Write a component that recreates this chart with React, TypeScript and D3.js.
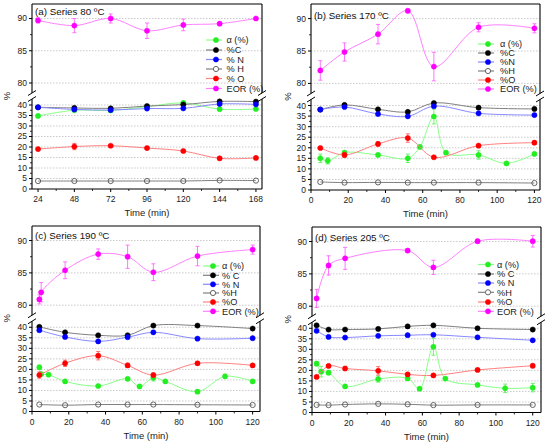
import React from "react";
import * as d3 from "d3";

// ---------- Panel (a) Series 80 ºC ----------
const aTime = [24, 48, 72, 96, 120, 144, 168];
const aAlpha = [34.8, 37.5, 37.4, 39.2, 41.0, 38.0, 38.1];
const aC = [38.9, 38.6, 38.4, 39.5, 40.2, 41.7, 41.6];
const aN = [38.9, 37.9, 37.6, 38.3, 38.4, 40.5, 40.3];
const aH = [3.8, 3.8, 3.8, 3.8, 3.8, 4.1, 4.0];
const aO = [19.0, 20.2, 20.6, 19.5, 18.1, 14.6, 14.8];
const aOErr = [0, 1.5, 0.5, 0, 0, 0.8, 0];
const aEOR = [89.7, 88.9, 90.0, 88.1, 89.0, 89.2, 90.0];
const aEORErr = [0.4, 1.1, 0.7, 1.2, 0.9, 0.2, 0.2];

// ---------- Panel (b) Series 170 ºC ----------
const bAlphaTime = [5, 9, 18, 36, 52, 58.5, 66, 72.5, 90, 105, 120];
const bAlpha = [15.0, 13.8, 17.7, 16.6, 15.0, 20.4, 34.8, 17.7, 16.6, 12.6, 17.1];
const bAlphaErr = [2, 1.5, 0.8, 0, 2, 0, 3.5, 0.5, 2, 0, 0];
const bTime = [5, 18, 36, 52, 66, 90, 120];
const bC = [38.1, 40.3, 38.2, 37.0, 41.2, 39.0, 38.4];
const bN = [38.1, 39.3, 36.0, 34.9, 39.7, 36.3, 35.5];
const bH = [3.8, 3.5, 3.6, 3.5, 3.5, 3.5, 3.3];
const bO = [19.9, 16.6, 21.8, 24.6, 15.5, 21.0, 22.4];
const bOErr = [0, 1.2, 1, 2, 0, 0, 0.8];
const bEOR = [82.0, 84.85, 87.6, 91.2, 82.6, 88.66, 88.5];
const bEORErr = [1.5, 1.4, 1.5, 0.3, 2.2, 0.7, 0.7];

// ---------- Panel (c) Series 190 ºC ----------
const cAlphaTime = [4, 5, 9, 18, 36, 52, 58.5, 66, 72.5, 90, 105, 120];
const cAlpha = [21.0, 17.8, 17.5, 14.3, 12.1, 15.5, 11.9, 16.0, 14.3, 9.4, 16.7, 14.3];
const cAlphaErr = [1, 0, 0, 0, 0, 0.5, 0, 1.5, 0, 0.8, 1, 0.5];
const cTime = [4, 18, 36, 52, 66, 90, 120];
const cC = [40.2, 37.6, 36.2, 36.2, 40.8, 40.8, 39.4];
const cN = [38.6, 35.4, 33.3, 35.3, 37.6, 34.6, 34.8];
const cH = [3.3, 3.0, 3.3, 3.3, 3.3, 3.2, 3.1];
const cO = [17.3, 22.9, 26.5, 21.9, 17.3, 22.9, 21.9];
const cOErr = [1.5, 1.5, 2, 1, 1, 0.8, 0];
const cEORTime = [4, 5, 18, 36, 52, 66, 90, 120];
const cEOR = [80.9, 82.0, 85.4, 87.9, 87.5, 85.1, 87.6, 88.6];
const cEORErr = [0.7, 1.5, 1.3, 0.8, 1.8, 1.3, 1.5, 0.7];

// ---------- Panel (d) Series 205 ºC ----------
const dAlphaTime = [2.5, 5, 9, 18, 36, 52, 58.5, 66, 72.5, 90, 105, 120];
const dAlpha = [23.2, 19.4, 18.9, 12.4, 15.9, 16.2, 11.3, 31.2, 16.1, 13.1, 11.5, 11.8];
const dAlphaErr = [1, 2.5, 1, 0.5, 1.5, 1, 0.5, 4, 0.5, 0.5, 2, 2];
const dTime = [2.5, 9, 18, 36, 52, 66, 90, 120];
const dC = [41.4, 39.4, 39.4, 39.7, 40.9, 41.4, 40.0, 39.4];
const dN = [38.8, 35.9, 35.6, 36.4, 36.7, 36.9, 35.7, 34.3];
const dH = [3.6, 3.5, 3.8, 4.1, 3.9, 3.5, 3.6, 3.6];
const dO = [16.9, 22.1, 20.9, 19.8, 18.1, 17.6, 20.2, 22.2];
const dOErr = [0, 0.5, 1, 2, 0, 0, 0, 1];
const dEORTime = [2.5, 9, 18, 52, 66, 90, 120];
const dEOR = [81.2, 86.3, 87.4, 88.6, 86.0, 90.05, 90.05];
const dEORErr = [1.4, 1.5, 1.7, 0.3, 1.1, 0.3, 0.9];

// ---------- Labels / ticks ----------
const titles = ["(a) Series 80 ºC", "(b) Series 170 ºC", "(c) Series 190 ºC", "(d) Series 205 ºC"];
const legendA = ["α (%)", "%C", "% N", "% H", "% O", "EOR (%)"];
const legendB = ["α (%)", "%C", "%N", "%H", "%O", "EOR (%)"];
const legendC = ["α (%)", "% C", "% N", "%H", "%O", "EOR (%)"];
const legendD = ["α (%)", "% C", "% N", "%H", "%O", "EOR (%)"];
const xTicksA = [24, 48, 72, 96, 120, 144, 168];
const xTicksMin = [0, 20, 40, 60, 80, 100, 120];
const yTicksBottom = [0, 5, 10, 15, 20, 25, 30, 35, 40];
const yTicksTop = [80, 85, 90];

// ---------- Styles ----------
const FONT = "'Liberation Sans', Arial, Helvetica, sans-serif";
const STY = [
  { fill: "#22ee22", stroke: "#22ee22", line: "#88ff88", err: "#66ee66" }, // alpha
  { fill: "#000000", stroke: "#000000", line: "#808080", err: "#555555" }, // C
  { fill: "#0000ff", stroke: "#0000ff", line: "#8888ff", err: "#6666ff" }, // N
  { fill: "none", stroke: "#555555", line: "#808080", err: "#808080" }, // H
  { fill: "#ff0000", stroke: "#ff0000", line: "#ff8080", err: "#ff6666" }, // O
  { fill: "#ff00ff", stroke: "#ff00ff", line: "#ff80ff", err: "#ff66ff" }, // EOR
];

type Series = { x: number[]; y: number[]; err?: number[]; top?: boolean };

function mk(x: number[], y: number[], err?: number[], top = false): Series {
  return { x, y, err, top };
}

const panels = [
  {
    left: 32, top: 4, W: 230, H: 185, xDomain: [20, 172], xTicks: xTicksA,
    xMinor: [36, 60, 84, 108, 132, 156], title: titles[0], titleY: 10.5,
    legend: legendA, legX: 184, legDx: 10.5, legY: [36, 46, 55.5, 65, 74.5, 84.5], yLabX: -25,
    series: [
      mk(aTime, aAlpha), mk(aTime, aC), mk(aTime, aN), mk(aTime, aH),
      mk(aTime, aO, aOErr), mk(aTime, aEOR, aEORErr, true),
    ],
  },
  {
    left: 311, top: 4, W: 229, H: 186, xDomain: [0, 123], xTicks: xTicksMin,
    xMinor: [10, 30, 50, 70, 90, 110], title: titles[1], titleY: 14.5,
    legend: legendB, legX: 177, legDx: 12, legY: [40, 49, 58, 67, 76, 85], yLabX: -23,
    series: [
      mk(bAlphaTime, bAlpha, bAlphaErr), mk(bTime, bC), mk(bTime, bN), mk(bTime, bH),
      mk(bTime, bO, bOErr), mk(bTime, bEOR, bEORErr, true),
    ],
  },
  {
    left: 32, top: 226, W: 228, H: 185.5, xDomain: [0, 124], xTicks: xTicksMin,
    xMinor: [10, 30, 50, 70, 90, 110], title: titles[2], titleY: 13,
    legend: legendC, legX: 181, legDx: 9, legY: [40, 49.3, 58.3, 67, 76, 85.3], yLabX: -25,
    series: [
      mk(cAlphaTime, cAlpha, cAlphaErr), mk(cTime, cC), mk(cTime, cN), mk(cTime, cH),
      mk(cTime, cO, cOErr), mk(cEORTime, cEOR, cEORErr, true),
    ],
  },
  {
    left: 312, top: 227, W: 229, H: 185.5, xDomain: [0, 124.5], xTicks: xTicksMin,
    xMinor: [10, 30, 50, 70, 90, 110], title: titles[3], titleY: 13.5,
    legend: legendD, legX: 176, legDx: 9, legY: [37.5, 47, 56, 65.3, 75, 84.3], yLabX: -24,
    series: [
      mk(dAlphaTime, dAlpha, dAlphaErr), mk(dTime, dC), mk(dTime, dN), mk(dTime, dH),
      mk(dTime, dO, dOErr), mk(dEORTime, dEOR, dEORErr, true),
    ],
  },
];

function Panel({ p }: { p: any }) {
  const { W, H } = p;
  const k = H / 185;
  const x = d3.scaleLinear().domain(p.xDomain).range([0, W]);
  const yTop = d3.scaleLinear().domain([80, 90]).range([79 * k, 14.5 * k]);
  const yBot = d3.scaleLinear().domain([0, 40]).range([H, 101 * k]);
  const brkA = 89 * k;
  const brkB = 95 * k;
  const R = 2.6;

  const breakMarks = (bx: number) => (
    <g>
      <line x1={bx - 4} y1={brkA + 2.5} x2={bx + 4} y2={brkA - 2.5} stroke="#000" strokeWidth={1} />
      <line x1={bx - 4} y1={brkB + 2.5} x2={bx + 4} y2={brkB - 2.5} stroke="#000" strokeWidth={1} />
    </g>
  );

  return (
    <g transform={`translate(${p.left},${p.top})`}>
      {/* grid */}
      {yTicksTop.map((v) => (
        <line key={"gt" + v} x1={0} x2={W} y1={yTop(v)} y2={yTop(v)} stroke="#bdbdbd" strokeWidth={0.8} strokeDasharray="1.5,1.5" />
      ))}
      {yTicksBottom.filter((v) => v > 0).map((v) => (
        <line key={"gb" + v} x1={0} x2={W} y1={yBot(v)} y2={yBot(v)} stroke="#bdbdbd" strokeWidth={0.8} strokeDasharray="1.5,1.5" />
      ))}

      {/* series */}
      {p.series.map((s: Series, i: number) => {
        const ys = s.top ? yTop : yBot;
        const pts: [number, number][] = s.x.map((xv, j) => [x(xv), ys(s.y[j])]);
        const path = d3.line().curve(d3.curveCatmullRom.alpha(0.5))(pts) || "";
        const st = STY[i];
        return (
          <g key={"s" + i}>
            <path d={path} fill="none" stroke={st.line} strokeWidth={1} />
            {s.err &&
              s.x.map((xv, j) => {
                const e = s.err![j];
                if (!e) return null;
                const cx = x(xv);
                const y1 = ys(s.y[j] - e);
                const y2 = ys(s.y[j] + e);
                return (
                  <g key={"e" + j} stroke={st.err} strokeWidth={0.9}>
                    <line x1={cx} x2={cx} y1={y1} y2={y2} />
                    <line x1={cx - 2} x2={cx + 2} y1={y1} y2={y1} />
                    <line x1={cx - 2} x2={cx + 2} y1={y2} y2={y2} />
                  </g>
                );
              })}
            {s.x.map((xv, j) => (
              <circle key={"c" + j} cx={x(xv)} cy={ys(s.y[j])} r={R} fill={st.fill} stroke={st.stroke} strokeWidth={i === 3 ? 0.9 : 0.5} />
            ))}
          </g>
        );
      })}

      {/* frame: left & right split by break, top & bottom */}
      <line x1={0} x2={W} y1={0} y2={0} stroke="#000" strokeWidth={1.1} />
      <line x1={0} x2={W} y1={H} y2={H} stroke="#000" strokeWidth={1.1} />
      <line x1={0} x2={0} y1={0} y2={brkA} stroke="#000" strokeWidth={1.1} />
      <line x1={0} x2={0} y1={brkB} y2={H} stroke="#000" strokeWidth={1.1} />
      <line x1={W} x2={W} y1={0} y2={brkA} stroke="#000" strokeWidth={1.1} />
      <line x1={W} x2={W} y1={brkB} y2={H} stroke="#000" strokeWidth={1.1} />
      {breakMarks(0)}
      {breakMarks(W)}

      {/* y ticks */}
      {yTicksTop.map((v) => (
        <g key={"yt" + v}>
          <line x1={-3} x2={0} y1={yTop(v)} y2={yTop(v)} stroke="#000" />
          <text x={-5} y={yTop(v)} dy="0.35em" textAnchor="end" fontSize={8.5} fontFamily={FONT} fill="#222">{v}</text>
        </g>
      ))}
      {[82.5, 87.5].map((v) => (
        <line key={"ytm" + v} x1={-2} x2={0} y1={yTop(v)} y2={yTop(v)} stroke="#000" strokeWidth={0.8} />
      ))}
      {yTicksBottom.map((v) => (
        <g key={"yb" + v}>
          <line x1={-3} x2={0} y1={yBot(v)} y2={yBot(v)} stroke="#000" />
          <text x={-5} y={yBot(v)} dy="0.35em" textAnchor="end" fontSize={8.5} fontFamily={FONT} fill="#222">{v}</text>
        </g>
      ))}
      {[2.5, 7.5, 12.5, 17.5, 22.5, 27.5, 32.5, 37.5].map((v) => (
        <line key={"ybm" + v} x1={-2} x2={0} y1={yBot(v)} y2={yBot(v)} stroke="#000" strokeWidth={0.8} />
      ))}

      {/* x ticks */}
      {p.xTicks.map((v: number) => (
        <g key={"xt" + v}>
          <line x1={x(v)} x2={x(v)} y1={H} y2={H + 3} stroke="#000" />
          <text x={x(v)} y={H + 13} textAnchor="middle" fontSize={8.5} fontFamily={FONT} fill="#222">{v}</text>
        </g>
      ))}
      {p.xMinor.map((v: number) => (
        <line key={"xm" + v} x1={x(v)} x2={x(v)} y1={H} y2={H + 2} stroke="#000" strokeWidth={0.8} />
      ))}

      {/* axis titles */}
      <text x={W / 2} y={H + 27} textAnchor="middle" fontSize={9.5} fontFamily={FONT} fill="#222">Time (min)</text>
      <text transform={`translate(${p.yLabX},${92 * k}) rotate(-90)`} textAnchor="middle" dy="0.35em" fontSize={9.5} fontFamily={FONT} fill="#222">%</text>

      {/* panel title */}
      <text x={3} y={p.titleY} fontSize={9.8} fontFamily={FONT} fill="#111">{p.title}</text>

      {/* legend */}
      {p.legend.map((lab: string, i: number) => {
        const ly = p.legY[i];
        const st = STY[i];
        return (
          <g key={"lg" + i}>
            <line x1={p.legX - 10} x2={p.legX + 6} y1={ly} y2={ly} stroke={st.line} strokeWidth={1.2} />
            <circle cx={p.legX} cy={ly} r={R} fill={i === 3 ? "#fff" : st.fill} stroke={st.stroke} strokeWidth={i === 3 ? 0.9 : 0.5} />
            <text x={p.legX + p.legDx} y={ly} dy="0.35em" fontSize={9.2} fontFamily={FONT} fill="#222">{lab}</text>
          </g>
        );
      })}
    </g>
  );
}

export default function App() {
  return (
    <svg
      width={550}
      height={445}
      viewBox="0 0 550 445"
      style={{ position: "absolute", left: 0, top: 0, background: "#fff" }}
    >
      <rect x={0} y={0} width={550} height={445} fill="#fff" />
      {panels.map((p, i) => (
        <Panel key={i} p={p} />
      ))}
    </svg>
  );
}
